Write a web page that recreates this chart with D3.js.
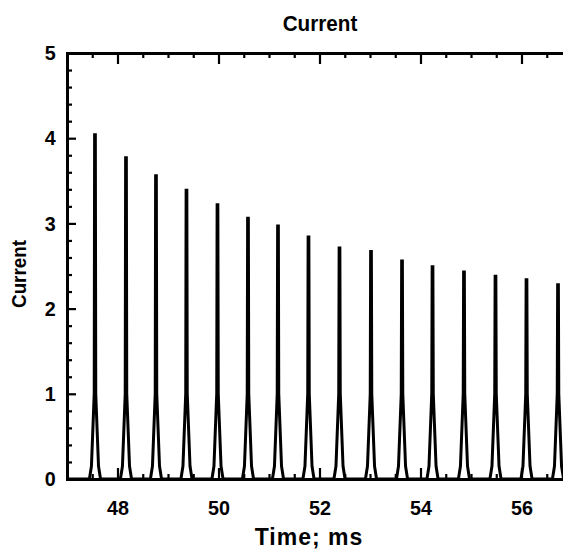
<!DOCTYPE html>
<html>
<head>
<meta charset="utf-8">
<script src="https://cdn.jsdelivr.net/npm/d3@7"></script>
<style>
  body { margin: 0; background: #fff; }
  svg { display: block; }
  text { font-family: "Liberation Sans", Arial, sans-serif; font-weight: bold; fill: #000; }
</style>
</head>
<body>
<div id="chart"></div>
<script>
// peaks (ms, current)
const peakTime = [47.554, 48.168, 48.762, 49.366, 49.980, 50.584, 51.178, 51.782,
                  52.396, 53.020, 53.634, 54.238, 54.861, 55.485, 56.099, 56.723];
const peakCurrent = [4.04, 3.77, 3.56, 3.39, 3.22, 3.06, 2.97, 2.84,
                     2.71, 2.67, 2.56, 2.49, 2.43, 2.38, 2.34, 2.28];
// shape of one pulse: offset from the peak (ms) and level (null = peak value)
const pulseOffset = [-0.11, -0.07, -0.015, -0.007, 0.007, 0.015, 0.07, 0.11];
const pulseLevel  = [0, 0.15, 1.0, null, null, 1.0, 0.15, 0];

const xMajorTicks = [48, 50, 52, 54, 56];
const yMajorTicks = [0, 1, 2, 3, 4, 5];

function drawChart() {
    d3.select("#chart").selectAll("*").remove();

    let width = 563, height = 550;
    let margin = { top: 53, left: 67, bottom: 71, right: -9 }; // plot runs past the right edge
    let squeeze = 0.94; // the original font is a bit narrower than Liberation Sans

    let svg = d3.select("#chart").append("svg")
        .attr("width", width)
        .attr("height", height);

    let x = d3.scaleLinear().domain([47, 57]).range([margin.left, width - margin.right]);
    let y = d3.scaleLinear().domain([0, 5]).range([height - margin.bottom, margin.top]);

    // build the trace: baseline between pulses, pulse shape around each peak
    let points = [[47, 0]];
    peakTime.forEach((t, i) => {
        pulseOffset.forEach((dt, k) => {
            points.push([t + dt, pulseLevel[k] === null ? peakCurrent[i] : pulseLevel[k]]);
        });
    });
    points.push([57, 0]);

    svg.append("clipPath").attr("id", "plot-clip")
        .append("rect")
        .attr("x", x(47)).attr("y", y(5) - 5)
        .attr("width", x(57) - x(47)).attr("height", y(0) - y(5) + 5);

    svg.append("path")
        .datum(points)
        .attr("clip-path", "url(#plot-clip)")
        .attr("fill", "none")
        .attr("stroke", "#000")
        .attr("stroke-width", 3)
        .attr("stroke-linejoin", "miter")
        .attr("d", d3.line().x(d => x(d[0])).y(d => y(d[1])));

    let minorX = d3.range(47, 57.01, 0.5).filter(v => v % 2 !== 0);
    let minorY = d3.range(0, 5.01, 0.2).filter(v => Math.abs(v - Math.round(v)) > 0.01);

    // bottom axis (ticks inside)
    svg.append("g").attr("class", "ax")
        .attr("transform", `translate(0,${y(0)})`)
        .call(d3.axisBottom(x).tickValues(minorX).tickSize(-5).tickFormat(""));
    svg.append("g").attr("class", "ax")
        .attr("transform", `translate(0,${y(0)})`)
        .call(d3.axisBottom(x).tickValues(xMajorTicks).tickSize(-11).tickPadding(21).tickFormat(d3.format("d")));

    // top axis
    svg.append("g").attr("class", "ax")
        .attr("transform", `translate(0,${y(5)})`)
        .call(d3.axisTop(x).tickValues(minorX).tickSize(-5).tickFormat(""));
    svg.append("g").attr("class", "ax")
        .attr("transform", `translate(0,${y(5)})`)
        .call(d3.axisTop(x).tickValues(xMajorTicks).tickSize(-11).tickFormat(""));

    // left axis
    svg.append("g").attr("class", "ax")
        .attr("transform", `translate(${x(47)},0)`)
        .call(d3.axisLeft(y).tickValues(minorY).tickSize(-5).tickFormat(""));
    svg.append("g").attr("class", "ax left")
        .attr("transform", `translate(${x(47)},0)`)
        .call(d3.axisLeft(y).tickValues(yMajorTicks).tickSize(-9).tickPadding(12).tickFormat(d3.format("d")));

    // right axis (mostly off the picture)
    svg.append("g").attr("class", "ax")
        .attr("transform", `translate(${x(57)},0)`)
        .call(d3.axisRight(y).tickValues(yMajorTicks).tickSize(-9).tickFormat(""));

    svg.selectAll(".ax .domain").attr("stroke", "#000").attr("stroke-width", 3);
    svg.selectAll(".ax .tick line").attr("stroke", "#000").attr("stroke-width", 2.2);
    svg.selectAll(".ax .tick text")
        .style("font-size", "21px")
        .style("font-family", "'Liberation Sans', Arial, sans-serif")
        .style("font-weight", "bold")
        .attr("fill", "#000")
        .attr("transform", `scale(${squeeze},1)`);

    // titles
    svg.append("text")
        .attr("transform", `translate(320,31) scale(${squeeze},1)`)
        .attr("text-anchor", "middle")
        .style("font-size", "22px")
        .text("Current");

    svg.append("text")
        .attr("transform", `translate(309,545)`)
        .attr("text-anchor", "middle")
        .style("font-size", "23px")
        .style("letter-spacing", "1px")
        .text("Time; ms");

    svg.append("text")
        .attr("transform", `translate(26,274) rotate(-90) scale(${squeeze},1)`)
        .attr("text-anchor", "middle")
        .style("font-size", "20px")
        .text("Current");
}

drawChart();
</script>
</body>
</html>
